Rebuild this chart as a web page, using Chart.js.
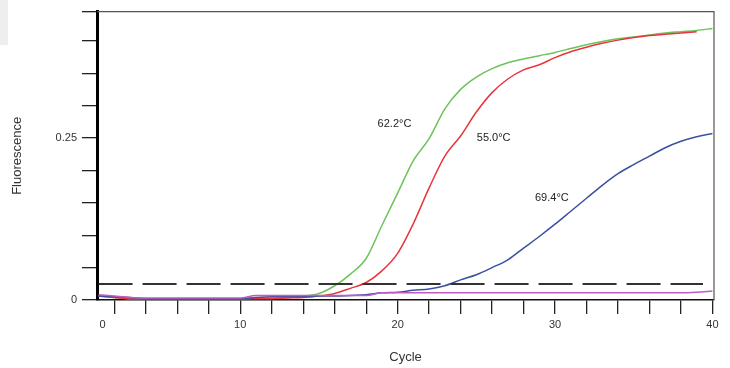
<!DOCTYPE html>
<html>
<head>
<meta charset="utf-8">
<script src="https://cdn.jsdelivr.net/npm/chart.js@4.4.0/dist/chart.umd.min.js"></script>
<style>
  html, body { margin: 0; padding: 0; background: #fff; }
  canvas { display: block; }
</style>
</head>
<body>
<canvas id="chart" width="730" height="368"></canvas>
<script>
// amplification curves, one value per cycle (1..40)
const cycles = Array.from({ length: 40 }, (_, i) => i + 1);

const green622 = [0.006, 0.004, 0.002, 0.002, 0.002, 0.002, 0.002, 0.002, 0.002, 0.002,
    0.003, 0.003, 0.004, 0.006, 0.010, 0.022, 0.040, 0.064, 0.115, 0.165,
    0.215, 0.249, 0.295, 0.325, 0.344, 0.357, 0.366, 0.372, 0.377, 0.382,
    0.388, 0.394, 0.399, 0.403, 0.406, 0.409, 0.412, 0.414, 0.416, 0.419];

const red550 = [0.006, 0.004, 0.002, 0.002, 0.002, 0.002, 0.002, 0.002, 0.002, 0.002,
    0.002, 0.002, 0.003, 0.004, 0.006, 0.010, 0.018, 0.027, 0.045, 0.072,
    0.118, 0.173, 0.222, 0.253, 0.290, 0.320, 0.341, 0.355, 0.363, 0.374,
    0.383, 0.390, 0.396, 0.401, 0.405, 0.408, 0.410, 0.412, 0.414, null];

const blue694 = [0.006, 0.005, 0.004, 0.002, 0.002, 0.002, 0.002, 0.002, 0.002, 0.002,
    0.004, 0.005, 0.005, 0.005, 0.006, 0.006, 0.007, 0.008, 0.011, 0.012,
    0.015, 0.017, 0.022, 0.031, 0.039, 0.050, 0.062, 0.080, 0.098, 0.117,
    0.137, 0.157, 0.177, 0.195, 0.209, 0.222, 0.235, 0.245, 0.252, 0.257];

const magentaNtc = [0.008, 0.006, 0.004, 0.003, 0.003, 0.003, 0.003, 0.003, 0.003, 0.003,
    0.007, 0.007, 0.007, 0.007, 0.007, 0.007, 0.007, 0.007, 0.011, 0.011,
    0.011, 0.011, 0.011, 0.011, 0.011, 0.011, 0.011, 0.011, 0.011, 0.011,
    0.011, 0.011, 0.011, 0.011, 0.011, 0.011, 0.011, 0.011, 0.012, 0.014];

const thresholdValue = 0.0245;
const thresholdCycles = [1, 39.4];

const curveLabels = ['62.2°C', '55.0°C', '69.4°C'];
const labelCycles = [19.8, 26.1, 29.8];
const labelValues = [0.271, 0.250, 0.158];

const xLabelled = { 10: '10', 20: '20', 30: '30', 40: '40' };
const FONT = "'Liberation Sans', Arial, sans-serif";

function toPoints(values) {
    return cycles.map((c, i) => ({ x: c, y: values[i] }));
}

function curve(values, color) {
    return {
        data: toPoints(values),
        borderColor: color,
        borderWidth: 1.5,
        pointRadius: 0,
        cubicInterpolationMode: 'monotone',
        spanGaps: false,
    };
}

const frame = {
    id: 'frame',
    beforeDraw(chart) {
        const { ctx } = chart;
        ctx.save();
        ctx.fillStyle = '#eeeeee';
        ctx.fillRect(0, 0, 8, 45);
        ctx.restore();
    },
    afterDraw(chart) {
        const { ctx, chartArea: a } = chart;
        ctx.save();
        ctx.strokeStyle = '#555';
        ctx.lineWidth = 1.2;
        ctx.beginPath();
        ctx.moveTo(a.left, a.top);
        ctx.lineTo(a.right, a.top);
        ctx.lineTo(a.right, a.bottom);
        ctx.stroke();
        ctx.restore();
    },
};

const curveText = {
    id: 'curveText',
    afterDatasetsDraw(chart) {
        const { ctx, scales } = chart;
        ctx.save();
        ctx.font = `11px ${FONT}`;
        ctx.fillStyle = '#222';
        ctx.textAlign = 'center';
        ctx.textBaseline = 'middle';
        curveLabels.forEach((t, i) => {
            ctx.fillText(t, scales.x.getPixelForValue(labelCycles[i]), scales.y.getPixelForValue(labelValues[i]));
        });
        ctx.restore();
    },
};

new Chart(document.getElementById('chart'), {
    type: 'line',
    data: {
        datasets: [
            {
                data: thresholdCycles.map((c) => ({ x: c, y: thresholdValue })),
                borderColor: '#333',
                borderWidth: 2,
                borderDash: [34, 10],
                pointRadius: 0,
            },
            curve(magentaNtc, '#c05cc0'),
            curve(blue694, '#3b4fa3'),
            curve(red550, '#e8353c'),
            curve(green622, '#6cc35a'),
        ],
    },
    options: {
        responsive: false,
        animation: false,
        layout: { padding: { top: 10, right: 16 } },
        plugins: { legend: { display: false }, tooltip: { enabled: false } },
        scales: {
            x: {
                type: 'linear',
                min: 0.9,
                max: 40.1,
                afterFit(scale) { scale.height = 68; },
                afterBuildTicks(scale) {
                    const ticks = [{ value: 1.25 }];
                    for (let v = 2; v <= 40; v += 2) ticks.push({ value: v });
                    scale.ticks = ticks;
                },
                border: { color: '#111', width: 1.5 },
                grid: {
                    drawOnChartArea: false,
                    tickLength: 14,
                    tickColor: (ctx) => (ctx.tick && ctx.tick.value === 1.25 ? 'rgba(0,0,0,0)' : '#222'),
                    lineWidth: 1.3,
                },
                ticks: {
                    autoSkip: false,
                    maxRotation: 0,
                    padding: 4,
                    color: '#333',
                    font: { family: FONT, size: 11 },
                    callback: (v) => (v === 1.25 ? '0' : (xLabelled[v] || '')),
                },
                title: {
                    display: true,
                    text: 'Cycle',
                    color: '#333',
                    font: { family: FONT, size: 13 },
                    padding: { bottom: 3 },
                },
            },
            y: {
                type: 'linear',
                min: 0,
                max: 0.445,
                afterFit(scale) { scale.width = 97; },
                border: { color: '#000', width: 3 },
                grid: {
                    drawOnChartArea: false,
                    tickLength: 15,
                    tickColor: '#222',
                    lineWidth: 1.3,
                },
                ticks: {
                    stepSize: 0.05,
                    padding: 5,
                    color: '#333',
                    font: { family: FONT, size: 11 },
                    callback: (v) => {
                        if (Math.abs(v) < 1e-9) return '0';
                        if (Math.abs(v - 0.25) < 1e-9) return '0.25';
                        return '';
                    },
                },
                title: {
                    display: true,
                    text: 'Fluorescence',
                    color: '#333',
                    font: { family: FONT, size: 13 },
                    padding: { top: 10 },
                },
            },
        },
    },
    plugins: [frame, curveText],
});
</script>
</body>
</html>
